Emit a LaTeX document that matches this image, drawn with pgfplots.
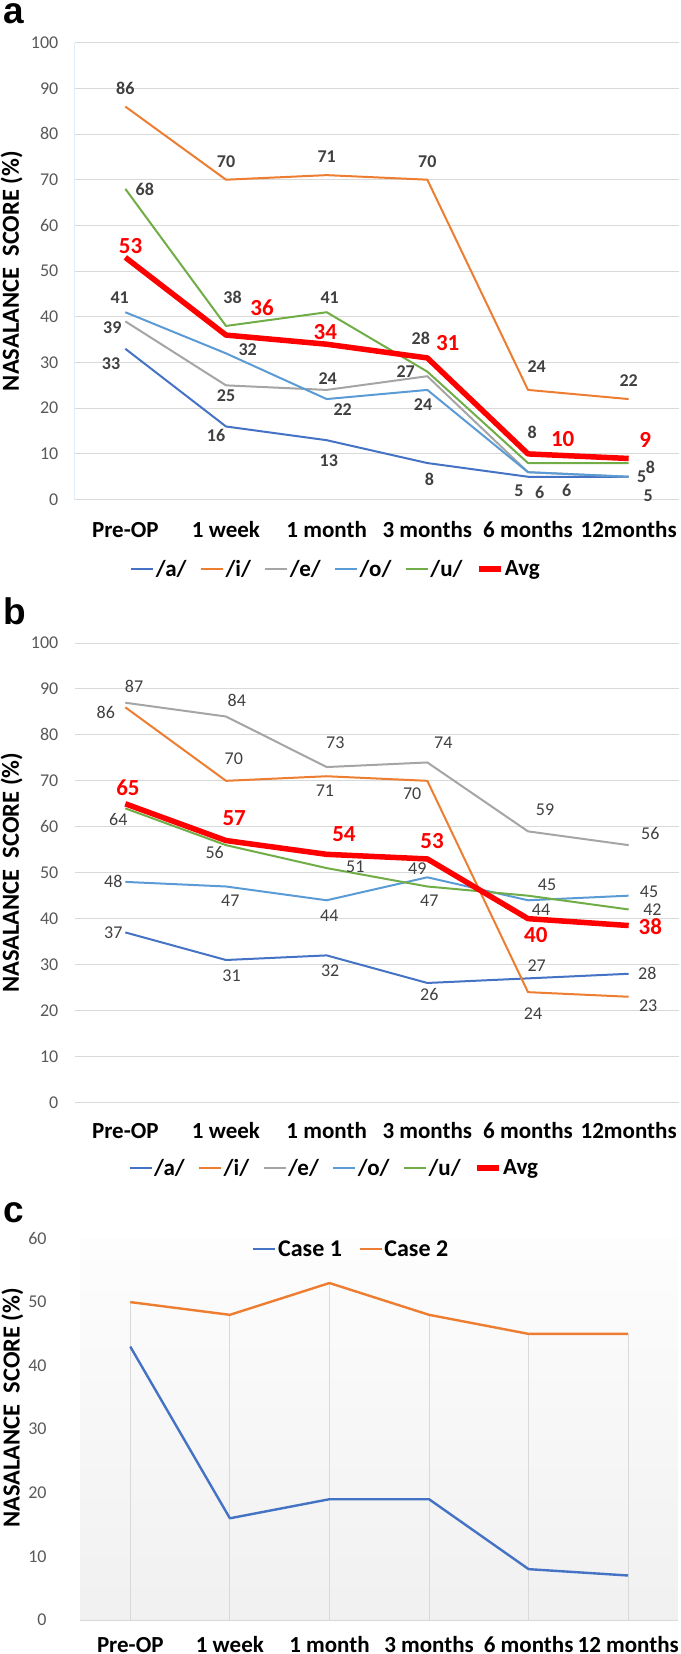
\documentclass[border=0pt]{standalone}
\usepackage{pgfplots}
\pgfplotsset{compat=1.18}
\usepackage{fontspec}
\setmainfont{Carlito}
\newfontfamily\arialf{Liberation Sans}
\definecolor{cA}{HTML}{4472C4}
\definecolor{cI}{HTML}{ED7D31}
\definecolor{cE}{HTML}{A5A5A5}
\definecolor{cO}{HTML}{5B9BD5}
\definecolor{cU}{HTML}{70AD47}
\definecolor{cAvg}{HTML}{FF0000}
\definecolor{gridc}{HTML}{D9D9D9}
\definecolor{tickc}{HTML}{595959}
\definecolor{labc}{HTML}{404040}
\definecolor{bgbot}{HTML}{EAEAEA}
\pgfdeclareverticalshading{cbg}{100bp}{color(0bp)=(bgbot); color(82bp)=(white); color(100bp)=(white)}
\pgfplotsset{
  base/.style={
    scale only axis, width=604pt,
    xmin=-0.5, xmax=5.5, xtick={0,...,5},
    axis line style={draw=none}, tick style={draw=none}, major tick length=0pt,
    clip=false,
    /pgf/number format/assume math mode=true,
    yticklabel style={font=\fontsize{18}{20}\selectfont, text=tickc, anchor=base east, inner sep=0pt, xshift=-16.5pt, yshift=-5.7pt},
    xticklabel style={font=\bfseries\fontsize{23}{26}\selectfont, text=black, anchor=base, inner sep=0pt, text depth=0pt},
    every axis y label/.style={at={(axis description cs:-0.105,0.5)}, rotate=90, anchor=center, font=\bfseries\fontsize{24.5}{26}\selectfont},
    ylabel={NASALANCE\ \ SCORE (\%)},
    legend style={draw=none, fill=none, font=\bfseries\fontsize{23}{26}\selectfont, /tikz/every even column/.append style={column sep=12pt}, nodes={inner sep=1.5pt}},
    legend columns=-1,
    legend image code/.code={\draw[#1] (0pt,0pt) -- (22pt,0pt);},
  },
  thin/.style={line width=2pt, line join=round, mark=none},
  thick/.style={line width=5.5pt, line join=round, mark=none},
  lab/.style 2 args={
    nodes near coords={\pgfplotspointmeta}, point meta=explicit symbolic,
    visualization depends on={value \thisrow{dx}\as\dx},
    visualization depends on={value \thisrow{dy}\as\dy},
    every node near coord/.append style={anchor=center, inner sep=0pt, xshift=\dx pt, yshift=\dy pt, text=#2, font=#1},
  },
}
\newcommand{\labA}{\bfseries\fontsize{18}{20}\selectfont}
\newcommand{\labB}{\fontsize{18}{20}\selectfont}
\newcommand{\labR}{\bfseries\fontsize{23}{26}\selectfont}
\tikzset{panel/.style={anchor=base west, inner sep=0pt, text height=20pt, text depth=0pt, font=\arialf\bfseries\fontsize{37}{40}\selectfont}}
\begin{document}
\begin{tikzpicture}
\path[use as bounding box] (0,0) rectangle (680pt,-1654pt);
\node[panel] at (3pt,-24pt) {a};
\node[panel] at (3pt,-624.5pt) {b};
\node[panel] at (3pt,-1222pt) {c};
% ---------------- panel a
\begin{axis}[base, at={(75pt,-499.6pt)}, anchor=south west, height=457pt,
  ymin=0, ymax=100, ytick={0,10,...,100}, ymajorgrids, grid style={gridc, line width=1pt},
  xticklabels={Pre-OP,1 week,1 month,3 months,6 months,12months},
  xticklabel style={yshift=-37.8pt},
  legend style={at={(axis description cs:0.432,-0.152)}, anchor=center}]
\draw[color=cO!18, line width=1pt] (rel axis cs:0,0) -- (rel axis cs:0,1);
\addplot[thin, cA, lab={\labA}{labc}] table[row sep=\\, x=x, y=y, meta=lab]{
x y lab dx dy\\
0 33 33 -14.3 -14.7\\
1 16 16 -10 -8.5\\
2 13 13 2.2 -20.4\\
3 8 8 2 -16.2\\
4 5 5 -9 -14.3\\
5 5 5 19.5 -18.5\\
};
\addlegendentry{/a/}
\addplot[thin, cI, lab={\labA}{labc}] table[row sep=\\, x=x, y=y, meta=lab]{
x y lab dx dy\\
0 86 86 0 18\\
1 70 70 0 18.3\\
2 71 71 0 18\\
3 70 70 0 18.3\\
4 24 24 8.7 23.4\\
5 22 22 0 18.3\\
};
\addlegendentry{/i/}
\addplot[thin, cE, lab={\labA}{labc}] table[row sep=\\, x=x, y=y, meta=lab]{
x y lab dx dy\\
0 39 39 -13 -6.5\\
1 25 25 0 -10.2\\
2 24 24 1 11.7\\
3 27 27 -21.7 4.5\\
4 6 6 38.6 -18.7\\
5 5 {} 0 0\\
};
\addlegendentry{/e/}
\addplot[thin, cO, lab={\labA}{labc}] table[row sep=\\, x=x, y=y, meta=lab]{
x y lab dx dy\\
0 41 41 -5.6 14.7\\
1 32 32 21.7 3.8\\
2 22 22 16 -10.8\\
3 24 24 -4.3 -14.7\\
4 6 6 11.7 -20\\
5 5 5 13 0\\
};
\addlegendentry{/o/}
\addplot[thin, cU, lab={\labA}{labc}] table[row sep=\\, x=x, y=y, meta=lab]{
x y lab dx dy\\
0 68 68 19.5 -0.5\\
1 38 38 6.5 28.4\\
2 41 41 3 14.7\\
3 28 28 -6.5 33.4\\
4 8 8 4.3 31\\
5 8 8 21.7 -4.2\\
};
\addlegendentry{/u/}
\addplot[thick, cAvg, lab={\labR}{cAvg}] table[row sep=\\, x=x, y=y, meta=lab]{
x y lab dx dy\\
0 53 53 5.2 11\\
1 36 36 36 27\\
2 34 34 -1.3 12\\
3 31 31 20.4 15.3\\
4 10 10 34.7 14.6\\
5 9 9 16.5 19\\
};
\addlegendentry{Avg}
\end{axis}
% ---------------- panel b
\begin{axis}[base, at={(75pt,-1102.4pt)}, anchor=south west, height=459.4pt,
  ymin=0, ymax=100, ytick={0,10,...,100}, ymajorgrids, grid style={gridc, line width=1pt},
  xticklabels={Pre-OP,1 week,1 month,3 months,6 months,12months},
  xticklabel style={yshift=-36.4pt},
  legend style={at={(axis description cs:0.429,-0.1424)}, anchor=center}]
\addplot[thin, cA, lab={\labB}{labc}] table[row sep=\\, x=x, y=y, meta=lab]{
x y lab dx dy\\
0 37 37 -12 0\\
1 31 31 5.6 -16\\
2 32 32 3.5 -15.8\\
3 26 26 2 -11.8\\
4 27 27 8.7 13\\
5 28 28 18.6 0\\
};
\addlegendentry{/a/}
\addplot[thin, cI, lab={\labB}{labc}] table[row sep=\\, x=x, y=y, meta=lab]{
x y lab dx dy\\
0 86 86 -19.5 -5\\
1 70 70 7.8 21.9\\
2 71 71 -1.7 -14.2\\
3 70 70 -15.2 -13.3\\
4 24 24 5 -21.3\\
5 23 23 19.5 -8.8\\
};
\addlegendentry{/i/}
\addplot[thin, cE, lab={\labB}{labc}] table[row sep=\\, x=x, y=y, meta=lab]{
x y lab dx dy\\
0 87 87 8.7 16.7\\
1 84 84 10.8 16.5\\
2 73 73 8.7 24.4\\
3 74 74 16 19.7\\
4 59 59 17 21.5\\
5 56 56 21.7 12\\
};
\addlegendentry{/e/}
\addplot[thin, cO, lab={\labB}{labc}] table[row sep=\\, x=x, y=y, meta=lab]{
x y lab dx dy\\
0 48 48 -12 0\\
1 47 47 4.3 -14\\
2 44 44 2.6 -15\\
3 49 49 -10 9\\
4 44 44 13 -9.2\\
5 45 45 20.4 4\\
};
\addlegendentry{/o/}
\addplot[thin, cU, lab={\labB}{labc}] table[row sep=\\, x=x, y=y, meta=lab]{
x y lab dx dy\\
0 64 64 -7 -10.8\\
1 56 56 -11.3 -7.7\\
2 51 51 28.6 1.7\\
3 47 47 2 -14\\
4 45 45 19 10.6\\
5 42 42 23.8 0\\
};
\addlegendentry{/u/}
\addplot[thick, cAvg, lab={\labR}{cAvg}] table[row sep=\\, x=x, y=y, meta=lab]{
x y lab dx dy\\
0 65 65 2.6 15.6\\
1 57 57 8.2 22.6\\
2 54 54 17.3 20\\
3 53 53 4.8 18.3\\
4 40 40 7.8 -16.6\\
5 38.5 38 21.7 -1\\
};
\addlegendentry{Avg}
\end{axis}
% ---------------- panel c
\begin{axis}[base, at={(80.5pt,-1620pt)}, anchor=south west, width=597.5pt, height=381.5pt,
  ymin=0, ymax=60, ytick={0,10,...,60},
  axis background/.style={shade, shading=cbg},
  yticklabel style={xshift=-17.2pt},
  every axis y label/.style={at={(axis description cs:-0.1138,0.556)}, rotate=90, anchor=center, font=\bfseries\fontsize{24.5}{26}\selectfont},
  xticklabels={Pre-OP,1 week,1 month,3 months,6 months,12 months},
  xticklabel style={yshift=-32.4pt},
  legend style={at={(axis description cs:0.4527,0.972)}, anchor=center, font=\bfseries\fontsize{24}{27}\selectfont, /tikz/every even column/.append style={column sep=15pt}}]
\draw[gridc, line width=1pt] (rel axis cs:0,0) -- (rel axis cs:1,0);
\addplot[ycomb, gridc, line width=1pt, mark=none, forget plot] coordinates {(0,50) (1,48) (2,53) (3,48) (4,45) (5,45)};
\addplot[line width=2.4pt, line join=round, mark=none, cA] coordinates {(0,43) (1,16) (2,19) (3,19) (4,8) (5,7)};
\addlegendentry{Case 1}
\addplot[line width=2.4pt, line join=round, mark=none, cI] coordinates {(0,50) (1,48) (2,53) (3,48) (4,45) (5,45)};
\addlegendentry{Case 2}
\end{axis}
\end{tikzpicture}
\end{document}
